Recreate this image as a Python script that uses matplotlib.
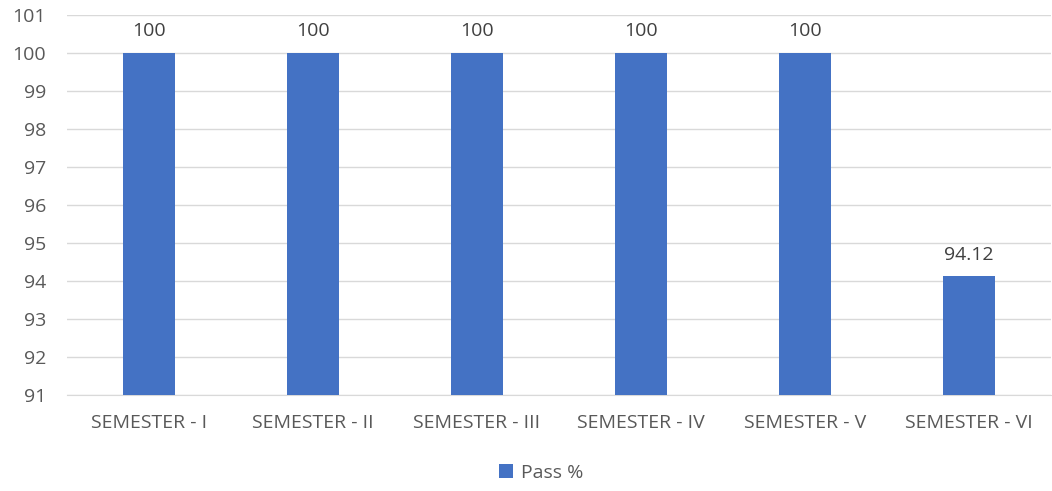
import matplotlib
matplotlib.use("Agg")
import matplotlib.pyplot as plt

categories = ["SEMESTER - I", "SEMESTER - II", "SEMESTER - III", "SEMESTER - IV", "SEMESTER - V", "SEMESTER - VI"]
pass_pct = [100, 100, 100, 100, 100, 94.12]
value_labels = ["100", "100", "100", "100", "100", "94.12"]
yticks = [91, 92, 93, 94, 95, 96, 97, 98, 99, 100, 101]

plt.rcParams['font.family'] = ['Open Sans', 'DejaVu Sans']
txt = "#595959"
bar_color = "#4472C4"
fs = 14

fig = plt.figure(figsize=(10.52, 4.91), dpi=100)
ax = fig.add_axes([67/1052, 1-395/491, (1051-67)/1052, (395-15)/491])

x = list(range(len(categories)))
bars = ax.bar(x, pass_pct, width=0.317, color=bar_color, zorder=3, label="Pass %")
ax.set_ylim(91, 101)
ax.set_xlim(-0.5, len(categories)-0.5)
ax.set_yticks(yticks)
ax.set_yticklabels([str(v) for v in yticks])
ax.set_xticks(x)
ax.set_xticklabels(categories)
ax.tick_params(axis='both', length=0, colors=txt, labelsize=fs)
ax.tick_params(axis='y', pad=15)
ax.tick_params(axis='x', pad=14)
ax.grid(axis='y', color="#D9D9D9", linewidth=1, zorder=0)
for s in ["top", "right", "left"]:
    ax.spines[s].set_visible(False)
ax.spines["bottom"].set_color("#D9D9D9")
ax.spines["bottom"].set_zorder(1)

for xi, v, lab in zip(x, pass_pct, value_labels):
    ax.annotate(lab, (xi, v), xytext=(0, 9), textcoords="offset points",
                ha="center", va="bottom", color="#404040", fontsize=fs)

fig.legend(handles=[bars], labels=["Pass %"], loc="center", bbox_to_anchor=(541/1052, 1-473/491),
           frameon=False, fontsize=fs, labelcolor=txt, handlelength=0.7, handleheight=0.7,
           handletextpad=0.4)

fig.savefig("out.png", dpi=100, facecolor="white")
